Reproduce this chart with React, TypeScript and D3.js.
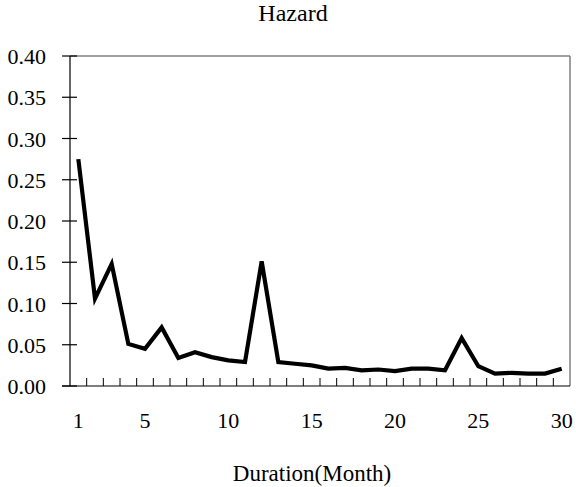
import React from "react";
import * as d3 from "d3";

const months: number[] = d3.range(1, 31);
const hazard: number[] = [
  0.275, 0.106, 0.148, 0.051, 0.045, 0.071, 0.034, 0.041, 0.035, 0.031,
  0.029, 0.151, 0.029, 0.027, 0.025, 0.021, 0.022, 0.019, 0.020, 0.018,
  0.021, 0.021, 0.019, 0.058, 0.024, 0.015, 0.016, 0.015, 0.015, 0.021,
];
const yTicks: number[] = [0, 0.05, 0.1, 0.15, 0.2, 0.25, 0.3, 0.35, 0.4];
const xLabels: number[] = [1, 5, 10, 15, 20, 25, 30];
const title = "Hazard";
const xTitle = "Duration(Month)";

const W = 576;
const H = 487;
const left = 70;
const right = 570;
const top = 56;
const bottom = 386;
const font = "'Liberation Serif', 'Times New Roman', serif";

export default function App() {
  const x = d3.scaleBand<number>().domain(months).range([left, right]).padding(0);
  const y = d3.scaleLinear().domain([0, 0.4]).range([bottom, top]);
  const cx = (m: number) => (x(m) as number) + x.bandwidth() / 2;
  const line = d3
    .line<number>()
    .x((_, i) => cx(months[i]))
    .y((d) => y(d));

  const catBoundaries = months.map((m) => x(m) as number).slice(1);

  return (
    <svg
      width={W}
      height={H}
      style={{ position: "absolute", left: 0, top: 0, background: "#fff" }}
      fontFamily={font}
    >
      {/* frame top & right */}
      <line x1={left} x2={right} y1={top} y2={top} stroke="#808080" strokeWidth={1.5} />
      <line x1={right} x2={right} y1={top} y2={bottom} stroke="#808080" strokeWidth={1.5} />
      {/* y axis */}
      <line x1={left} x2={left} y1={top} y2={bottom} stroke="#000" strokeWidth={1.2} />
      {yTicks.map((t) => (
        <g key={t}>
          <line x1={left - 8} x2={left + 7} y1={y(t)} y2={y(t)} stroke="#000" strokeWidth={1.2} />
          <text x={46} y={y(t) + 8} textAnchor="end" fontSize={22} fill="#000">
            {t.toFixed(2)}
          </text>
        </g>
      ))}
      {/* x axis */}
      <line x1={left - 8} x2={right} y1={bottom} y2={bottom} stroke="#000" strokeWidth={1.2} />
      {catBoundaries.map((b, i) => (
        <line key={i} x1={b} x2={b} y1={bottom} y2={bottom - 8} stroke="#000" strokeWidth={1} />
      ))}
      {xLabels.map((m) => (
        <text key={m} x={cx(m)} y={428} textAnchor="middle" fontSize={22} fill="#000">
          {m}
        </text>
      ))}
      {/* data line */}
      <path d={line(hazard) || ""} fill="none" stroke="#000" strokeWidth={4.2} strokeLinejoin="miter" />
      {/* titles */}
      <text x={293} y={21} textAnchor="middle" fontSize={24} fill="#000">
        {title}
      </text>
      <text x={312} y={481} textAnchor="middle" fontSize={23} fill="#000">
        {xTitle}
      </text>
    </svg>
  );
}
